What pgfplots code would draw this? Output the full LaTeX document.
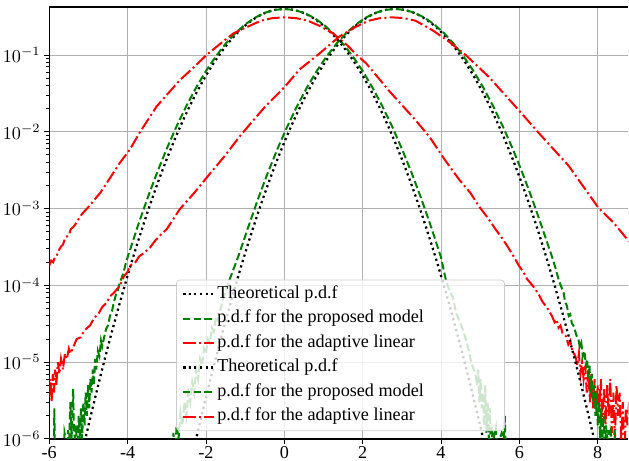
\documentclass[border=0pt]{standalone}
\usepackage{pgfplots}
\pgfplotsset{compat=1.18}
\usepackage{fontspec}
\setmainfont{Liberation Serif}

\definecolor{mplgreen}{rgb}{0,0.5,0}
\definecolor{gridgray}{rgb}{0.69,0.69,0.69}

\pgfplotsset{
  theo/.style={black, line width=1.25pt, line cap=butt, dash pattern=on 1.2pt off 1.9pt},
  prop/.style={mplgreen, line width=1.1pt, line cap=butt, dash pattern=on 4.1pt off 1.8pt},
  adap/.style={red, line width=1.1pt, line cap=butt, dash pattern=on 7pt off 1.8pt on 1.1pt off 1.8pt},
}

\begin{document}
\begin{tikzpicture}
\begin{axis}[
    scale only axis,
    width=319pt, height=238pt,
    ymode=log,
    xmin=-6, xmax=8.78,
    ymin=1e-6, ymax=0.424,
    xtick={-6,-4,-2,0,2,4,6,8},
    xticklabels={-6,-4,-2,0,2,4,6,8},
    ytick={1e-6,1e-5,1e-4,1e-3,1e-2,1e-1},
    axis x line*=box, axis y line*=left,
    axis line style={-, line width=0.8pt},
    xtick pos=left, ytick pos=left,
    tick align=outside,
    major tick length=3pt, minor tick length=1.7pt,
    every tick/.style={black, line width=0.5pt},
    grid=major,
    major grid style={gridgray, line width=0.5pt},
    tick label style={font=\fontsize{10}{12}\selectfont},
    yticklabel style={inner xsep=1.6pt},
    xticklabel style={inner ysep=1pt},
    legend cell align=left,
    legend style={at={(0.219,0.018)}, anchor=south west,
        fill=white, fill opacity=0.8, text opacity=1, draw opacity=1,
        draw=black!20, rounded corners=2pt,
        font=\fontsize{10}{12}\selectfont,
        row sep=1.9pt,
        nodes={inner sep=1.2pt, text height=7pt, text depth=2.2pt}},
]

% theoretical, mean 0
\addplot[theo, smooth] coordinates {
(-5.5,1.08e-7)(-5.25,4.13e-7)(-5,1.487e-6)(-4.75,5.031e-6)(-4.5,1.598e-5)(-4.25,4.772e-5)
(-4,1.338e-4)(-3.75,3.526e-4)(-3.5,8.727e-4)(-3.25,2.029e-3)(-3,4.432e-3)(-2.75,9.09e-3)
(-2.5,1.753e-2)(-2.25,3.174e-2)(-2,5.399e-2)(-1.75,8.628e-2)(-1.5,0.12952)(-1.25,0.18265)
(-1,0.24197)(-0.75,0.30114)(-0.5,0.35207)(-0.25,0.38667)(0,0.39894)
(0.25,0.38667)(0.5,0.35207)(0.75,0.30114)(1,0.24197)(1.25,0.18265)(1.5,0.12952)
(1.75,8.628e-2)(2,5.399e-2)(2.25,3.174e-2)(2.5,1.753e-2)(2.75,9.09e-3)(3,4.432e-3)
(3.25,2.029e-3)(3.5,8.727e-4)(3.75,3.526e-4)(4,1.338e-4)(4.25,4.772e-5)(4.5,1.598e-5)
(4.75,5.031e-6)(5,1.487e-6)(5.25,4.13e-7)(5.5,1.08e-7)
};
\addlegendentry{\makebox[154pt][l]{Theoretical p.d.f}}

% proposed model, mean 0
\addplot[prop] coordinates {
(-5.89,3e-7)(-5.87,2.5e-6)(-5.85,3e-7)(-5.73,3e-7)(-5.70,1e-6)(-5.64,3e-7)(-5.61,1.2e-6)
(-5.58,1e-6)(-5.55,3e-7)(-5.52,1.3e-6)(-5.49,1e-6)(-5.46,3e-6)(-5.43,1e-6)(-5.39,4.5e-6)
(-5.37,1.2e-6)(-5.34,1e-6)(-5.31,1.5e-6)(-5.28,3e-7)(-5.25,2e-6)(-5.22,1e-6)(-5.19,2.5e-6)
(-5.16,1e-6)(-5.13,3e-6)(-5.10,1.5e-6)(-5.07,4e-6)(-5.04,2e-6)(-5.01,5e-6)(-4.98,2.5e-6)
(-4.95,6e-6)(-4.92,4e-6)(-4.89,8e-6)(-4.86,5e-6)(-4.83,1.1e-5)(-4.80,8e-6)(-4.76,1.4e-5)
(-4.72,1.2e-5)(-4.68,1.9e-5)(-4.65,1.6e-5)(-4.60,2.1e-5)(-4.55,2.7e-5)(-4.50,3.0e-5)
(-4.45,4.0e-5)(-4.40,4.6e-5)(-4.35,6.0e-5)(-4.30,7.5e-5)(-4.25,8.5e-5)(-4.20,1.1e-4)
(-4.15,1.25e-4)(-4.10,1.5e-4)(-4.05,1.9e-4)
(-4,2.32e-4)(-3.75,5.71e-4)(-3.5,1.33e-3)(-3.25,2.92e-3)(-3,6.04e-3)(-2.75,1.178e-2)
(-2.5,2.173e-2)(-2.25,3.78e-2)(-2,6.2e-2)(-1.75,9.58e-2)(-1.5,0.14)(-1.25,0.1928)
(-1,0.2504)(-0.75,0.3069)(-0.5,0.3551)(-0.25,0.3875)(0,0.3989)(0.25,0.3875)(0.5,0.3551)
(0.75,0.3069)(1,0.2504)(1.25,0.1928)(1.5,0.14)(1.75,9.58e-2)(2,6.2e-2)(2.25,3.78e-2)
(2.5,2.173e-2)(2.75,1.178e-2)(3,6.04e-3)(3.25,2.92e-3)(3.5,1.33e-3)(3.75,5.71e-4)(4,2.32e-4)
(4.12,1.2e-4)(4.20,9e-5)(4.30,7e-5)(4.38,4.5e-5)(4.46,3.5e-5)(4.54,2.8e-5)(4.63,2e-5)
(4.70,1.5e-5)(4.75,1.1e-5)(4.80,9e-6)(4.88,7e-6)(4.92,5e-6)(4.95,8e-6)(4.98,3e-6)
(5.01,6e-6)(5.04,2.5e-6)(5.07,4e-6)(5.10,1.5e-6)(5.13,5e-6)(5.16,1.2e-6)(5.19,3e-6)
(5.22,1e-6)(5.25,2.5e-6)(5.28,4e-7)(5.31,1.2e-6)(5.34,1e-6)(5.40,1.4e-6)(5.45,4e-7)
(5.50,1e-6)(5.55,1.2e-6)(5.60,1e-6)(5.63,2e-6)(5.66,4e-7)
};
\addlegendentry{\makebox[154pt][l]{p.d.f for the proposed model}}

% adaptive linear, mean 0
\addplot[adap] coordinates {
(-6.0,1.8e-4)(-5.95,2.1e-4)(-5.9,2.0e-4)(-5.85,2.4e-4)(-5.8,2.5e-4)(-5.75,2.9e-4)
(-5.7,3.2e-4)(-5.65,3.4e-4)(-5.59,4.2e-4)(-5.5,4.5e-4)(-5.45,5.4e-4)(-5.38,5.8e-4)
(-5.3,6.6e-4)(-5.22,7.8e-4)(-5.13,8.9e-4)(-5.0,1.05e-3)(-4.85,1.3e-3)(-4.7,1.6e-3)
(-4.45,2.5e-3)(-4.19,4.0e-3)(-3.95,5.8e-3)(-3.68,1.0e-2)(-3.26,2.14e-2)(-2.67,4.7e-2)
(-2.3,7e-2)(-1.99,0.1)(-1.6,0.145)(-1.31,0.19)(-1.14,0.21)(-0.6,0.28)(-0.3,0.303)
(0,0.31)(0.3,0.303)(0.6,0.28)(0.9,0.24)(1.23,0.193)(1.6,0.135)(1.85,0.1)(2.09,0.078)
(2.7,0.033)(3.27,0.0158)(3.70,0.0087)(4.1,4.3e-3)(4.46,2.4e-3)(4.75,1.6e-3)(4.97,1.07e-3)
(5.2,7.5e-4)(5.39,5.4e-4)(5.52,4.4e-4)(5.7,3.2e-4)(5.85,2.4e-4)(5.99,1.8e-4)(6.1,1.5e-4)
(6.2,1.2e-4)(6.3,1.05e-4)(6.41,8.9e-5)(6.5,7.5e-5)(6.6,6e-5)(6.7,5.2e-5)(6.83,4e-5)
(6.9,3.3e-5)(6.95,3.6e-5)(7.0,2.8e-5)(7.05,3e-5)(7.1,2.4e-5)(7.18,2.2e-5)(7.25,1.7e-5)
(7.3,1.9e-5)(7.35,1.4e-5)(7.43,1.2e-5)(7.48,9e-6)(7.52,1.3e-5)(7.56,7e-6)(7.60,1.0e-5)
(7.64,6e-6)(7.68,9e-6)(7.72,4e-6)(7.76,8e-6)(7.80,3e-6)(7.84,7e-6)(7.88,2.5e-6)
(7.92,6e-6)(7.96,2e-6)(8.00,5e-6)(8.04,2.5e-6)(8.08,6e-6)(8.12,1.5e-6)(8.16,4.5e-6)
(8.20,1.5e-6)(8.24,5e-6)(8.28,2e-6)(8.32,6e-6)(8.36,1.2e-6)(8.40,4e-6)(8.44,1e-6)
(8.48,5e-6)(8.52,2e-6)(8.56,4e-6)(8.60,1e-6)(8.64,3e-6)(8.68,5e-7)(8.72,2.5e-6)
(8.76,1.5e-6)(8.80,3e-6)
};
\addlegendentry{\makebox[154pt][l]{p.d.f for the adaptive linear}}

% theoretical, mean 2.828
\addplot[theo, smooth] coordinates {
(-2.672,1.08e-7)(-2.422,4.13e-7)(-2.172,1.487e-6)(-1.922,5.031e-6)(-1.672,1.598e-5)
(-1.422,4.772e-5)(-1.172,1.338e-4)(-0.922,3.526e-4)(-0.672,8.727e-4)(-0.422,2.029e-3)
(-0.172,4.432e-3)(0.078,9.09e-3)(0.328,1.753e-2)(0.578,3.174e-2)(0.828,5.399e-2)
(1.078,8.628e-2)(1.328,0.12952)(1.578,0.18265)(1.828,0.24197)(2.078,0.30114)
(2.328,0.35207)(2.578,0.38667)(2.828,0.39894)(3.078,0.38667)(3.328,0.35207)
(3.578,0.30114)(3.828,0.24197)(4.078,0.18265)(4.328,0.12952)(4.578,8.628e-2)
(4.828,5.399e-2)(5.078,3.174e-2)(5.328,1.753e-2)(5.578,9.09e-3)(5.828,4.432e-3)
(6.078,2.029e-3)(6.328,8.727e-4)(6.578,3.526e-4)(6.828,1.338e-4)(7.078,4.772e-5)
(7.328,1.598e-5)(7.578,5.031e-6)(7.828,1.487e-6)(8.078,4.13e-7)(8.328,1.08e-7)
};
\addlegendentry{\makebox[154pt][l]{Theoretical p.d.f}}

% proposed model, mean 2.828
\addplot[prop] coordinates {
(-2.87,3e-7)(-2.83,1.2e-6)(-2.8,4e-7)(-2.75,1.5e-6)(-2.7,1e-6)(-2.65,2.2e-6)(-2.6,1.5e-6)
(-2.55,3e-6)(-2.5,2e-6)(-2.45,4e-6)(-2.4,3e-6)(-2.35,5.5e-6)(-2.3,4e-6)(-2.25,8e-6)
(-2.2,6e-6)(-2.15,1.1e-5)(-2.1,9e-6)(-2.05,1.5e-5)(-2,1.3e-5)(-1.95,2e-5)(-1.9,1.8e-5)
(-1.85,2.8e-5)(-1.8,2.5e-5)(-1.75,3.8e-5)(-1.7,3.5e-5)(-1.65,4.5e-5)(-1.6,5.5e-5)
(-1.55,7e-5)(-1.5,8e-5)
(-1.422,1.1e-4)(-1.172,2.4e-4)(-0.922,5.71e-4)(-0.672,1.33e-3)(-0.422,2.92e-3)
(-0.172,6.04e-3)(0.078,1.178e-2)(0.328,2.173e-2)(0.578,3.78e-2)(0.828,6.2e-2)
(1.078,9.58e-2)(1.328,0.14)(1.578,0.1928)(1.828,0.2504)(2.078,0.3069)(2.328,0.3551)
(2.578,0.3875)(2.828,0.3989)(3.078,0.3875)(3.328,0.3551)(3.578,0.3069)(3.828,0.2504)
(4.078,0.1928)(4.328,0.14)(4.578,9.58e-2)(4.828,6.2e-2)(5.078,3.78e-2)(5.328,2.173e-2)
(5.578,1.178e-2)(5.828,6.04e-3)(6.078,2.92e-3)(6.328,1.33e-3)(6.578,5.71e-4)
(6.828,2.4e-4)(6.92,1.7e-4)(7.0,1.2e-4)
(7.09,9e-5)(7.13,8e-5)(7.17,6e-5)(7.21,5.5e-5)(7.26,4e-5)(7.30,4.2e-5)(7.34,3.2e-5)
(7.38,3e-5)(7.42,2.6e-5)(7.46,2.2e-5)(7.50,2.1e-5)(7.54,1.6e-5)(7.58,1.8e-5)(7.62,1.2e-5)
(7.66,1.4e-5)(7.70,9e-6)(7.73,1.1e-5)(7.76,6e-6)(7.79,9e-6)(7.82,4e-6)(7.85,7e-6)
(7.88,3e-6)(7.91,5e-6)(7.94,2e-6)(7.97,4e-6)(8.00,1.5e-6)(8.03,3e-6)(8.06,1e-6)
(8.09,2.5e-6)(8.12,1e-6)(8.15,2e-6)(8.18,4e-7)(8.21,1.5e-6)(8.24,1e-6)(8.27,1.3e-6)
(8.30,4e-7)(8.33,1.2e-6)(8.36,1e-6)(8.40,4e-7)(8.43,1.3e-6)(8.46,4e-7)
};
\addlegendentry{\makebox[154pt][l]{p.d.f for the proposed model}}

% adaptive linear, mean 2.828
\addplot[adap] coordinates {
(-6.0,3.5e-6)(-5.97,6e-6)(-5.94,3e-6)(-5.91,7e-6)(-5.88,4e-6)(-5.85,8e-6)(-5.82,5e-6)
(-5.78,1.0e-5)(-5.74,7e-6)(-5.70,1.1e-5)(-5.65,8e-6)(-5.6,1.3e-5)(-5.55,1.1e-5)
(-5.5,1.5e-5)(-5.45,1.3e-5)(-5.38,1.6e-5)(-5.3,2e-5)(-5.2,2.1e-5)(-5.1,2.6e-5)
(-4.96,3e-5)(-4.85,3.8e-5)(-4.75,4.2e-5)(-4.65,5.2e-5)(-4.53,6e-5)(-4.45,7.2e-5)
(-4.35,8e-5)(-4.19,1e-4)(-4.1,1.3e-4)(-4.0,1.5e-4)(-3.94,1.8e-4)(-3.8,2e-4)(-3.7,2.4e-4)
(-3.6,2.6e-4)(-3.43,3.1e-4)(-3.3,3.8e-4)(-3.15,4.6e-4)(-3.0,5.4e-4)(-2.67,9.8e-4)
(-2.3,1.6e-3)(-1.99,2.5e-3)(-1.5,5e-3)(-1.14,8.7e-3)(-0.88,0.0125)(-0.5,0.021)
(0.0,0.038)(0.39,0.065)(0.85,0.1)(1.41,0.175)(1.8,0.23)(2.15,0.28)(2.45,0.303)
(2.75,0.31)(3.05,0.303)(3.35,0.28)(3.78,0.211)(4.2,0.15)(4.63,0.1)(5.22,0.052)
(5.99,0.019)(6.50,0.0096)(7.26,0.0036)(8.02,0.00102)(8.4,6.6e-4)(8.70,4.3e-4)(8.80,3.7e-4)
};
\addlegendentry{\makebox[154pt][l]{p.d.f for the adaptive linear}}

\end{axis}
\path ([yshift=3.8pt]current axis.north west);
\end{tikzpicture}
\end{document}
